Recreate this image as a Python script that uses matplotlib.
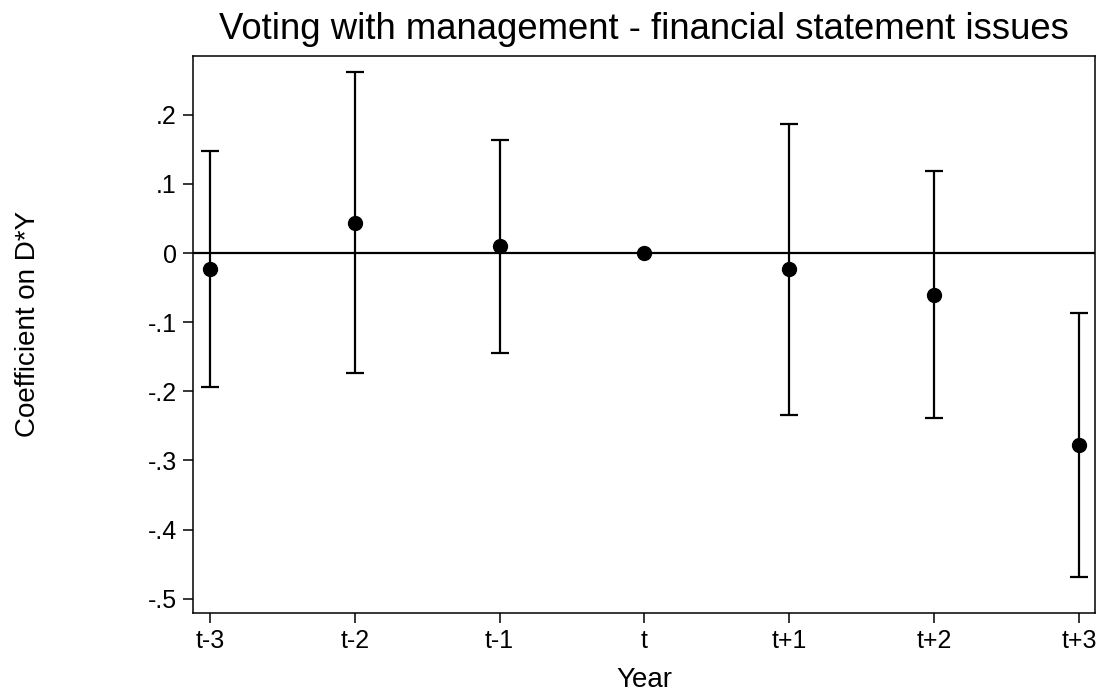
import matplotlib
matplotlib.use("Agg")
import matplotlib.pyplot as plt
from matplotlib.ticker import FuncFormatter
import numpy as np

plt.rcParams['font.family'] = ['Liberation Sans', 'DejaVu Sans']

# values
years = ['t-3', 't-2', 't-1', 't', 't+1', 't+2', 't+3']
coef = [-0.0225, 0.044, 0.0097, 0.0, -0.0236, -0.060, -0.278]
ci_low = [-0.194, -0.173, -0.1445, 0.0, -0.2335, -0.239, -0.468]
ci_high = [0.148, 0.262, 0.163, 0.0, 0.187, 0.119, -0.087]
yticks = [0.2, 0.1, 0.0, -0.1, -0.2, -0.3, -0.4, -0.5]


def stata_fmt(v, pos):
    # stata style: .2, -.1, 0
    if abs(v) < 1e-9:
        return '0'
    s = '%g' % v
    return s.replace('0.', '.')


fig = plt.figure(figsize=(11.02, 6.94), dpi=100)
ax = fig.add_axes([0.1751, 0.1163, 0.9936 - 0.1751, 0.920 - 0.1163])

x = np.arange(len(years))
c = np.array(coef)
lo = np.array(ci_low)
hi = np.array(ci_high)
has_ci = hi > lo

ax.axhline(0, color='black', lw=1.6, zorder=1)
ax.errorbar(x[has_ci], c[has_ci], yerr=[c[has_ci] - lo[has_ci], hi[has_ci] - c[has_ci]],
            fmt='none', ecolor='black', elinewidth=1.6, capsize=6.5, capthick=1.6, zorder=2)
ax.plot(x, c, 'o', color='black', markersize=10, zorder=3)

ax.set_xlim(-0.117, 6.11)
ax.set_ylim(-0.521, 0.2857)
ax.set_xticks(x)
ax.set_xticklabels(years)
ax.set_yticks(yticks)
ax.yaxis.set_major_formatter(FuncFormatter(stata_fmt))
ax.tick_params(axis='both', length=7.5, width=1.1, labelsize=18, color='black', pad=4)

for sp in ax.spines.values():
    sp.set_linewidth(1.1)
    sp.set_color('black')

ax.set_xlabel('Year', fontsize=20, labelpad=10)
ax.set_ylabel('Coefficient on D*Y', fontsize=20)
ax.yaxis.set_label_coords(-0.168, 0.519)
ax.set_title('Voting with management - financial statement issues', fontsize=26.3, pad=12)

fig.savefig('out.png', dpi=100)
